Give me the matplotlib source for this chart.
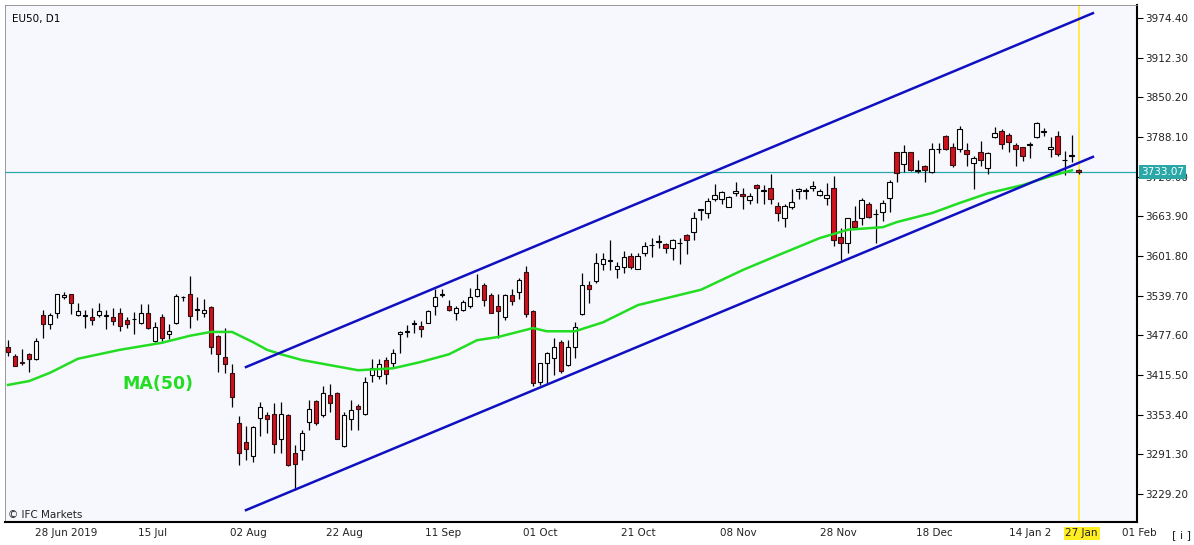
import numpy as np
import matplotlib.pyplot as plt

# daily candles EU50, D1
opens = [3460, 3446, 3436, 3448, 3440, 3509, 3496, 3512, 3537, 3542,
         3509, 3508, 3506, 3509, 3508, 3506, 3512, 3502, 3503, 3497,
         3512, 3468, 3506, 3479, 3497, 3537, 3543, 3518, 3512, 3522,
         3477, 3444, 3418, 3340, 3310, 3288, 3348, 3353, 3354, 3316,
         3353, 3293, 3298, 3342, 3375, 3353, 3384, 3388, 3304, 3346,
         3367, 3354, 3415, 3414, 3439, 3434, 3480, 3483, 3496, 3492,
         3497, 3524, 3541, 3524, 3512, 3518, 3523, 3540, 3556, 3541,
         3524, 3506, 3541, 3546, 3577, 3516, 3405, 3435, 3442, 3467,
         3431, 3460, 3511, 3556, 3563, 3589, 3594, 3582, 3585, 3602,
         3582, 3606, 3619, 3624, 3621, 3614, 3622, 3635, 3640, 3674,
         3669, 3691, 3691, 3679, 3701, 3699, 3690, 3713, 3704, 3709,
         3680, 3661, 3678, 3703, 3704, 3708, 3697, 3692, 3709, 3631,
         3622, 3656, 3662, 3684, 3667, 3670, 3692, 3765, 3746, 3764,
         3735, 3742, 3734, 3769, 3789, 3772, 3769, 3768, 3747, 3764,
         3739, 3788, 3798, 3791, 3776, 3772, 3776, 3788, 3796, 3769,
         3790, 3752, 3759, 3736]
closes = [3451, 3430, 3435, 3440, 3469, 3495, 3509, 3543, 3541, 3528,
          3516, 3508, 3501, 3516, 3508, 3500, 3493, 3496, 3503, 3512,
          3489, 3491, 3474, 3485, 3539, 3537, 3508, 3518, 3518, 3460,
          3448, 3432, 3381, 3293, 3299, 3334, 3365, 3346, 3308, 3354,
          3275, 3276, 3324, 3363, 3340, 3387, 3372, 3316, 3353, 3361,
          3362, 3405, 3427, 3432, 3417, 3450, 3483, 3483, 3496, 3488,
          3516, 3537, 3541, 3518, 3521, 3530, 3538, 3550, 3533, 3513,
          3515, 3541, 3532, 3565, 3511, 3403, 3434, 3450, 3459, 3422,
          3459, 3490, 3557, 3550, 3591, 3597, 3594, 3586, 3600, 3584,
          3602, 3617, 3619, 3624, 3615, 3627, 3622, 3627, 3662, 3674,
          3688, 3697, 3702, 3694, 3704, 3696, 3696, 3708, 3704, 3691,
          3669, 3680, 3687, 3706, 3704, 3711, 3703, 3697, 3627, 3622,
          3661, 3648, 3690, 3663, 3667, 3685, 3718, 3732, 3765, 3737,
          3735, 3737, 3769, 3769, 3770, 3744, 3800, 3761, 3756, 3752,
          3763, 3795, 3777, 3781, 3770, 3758, 3776, 3810, 3796, 3773,
          3761, 3752, 3759, 3733]
highs = [3471, 3448, 3457, 3450, 3473, 3517, 3512, 3543, 3545, 3543,
         3529, 3518, 3520, 3529, 3518, 3520, 3520, 3507, 3514, 3527,
         3527, 3499, 3511, 3495, 3542, 3539, 3571, 3537, 3534, 3524,
         3478, 3489, 3433, 3352, 3335, 3336, 3374, 3358, 3372, 3373,
         3354, 3306, 3329, 3376, 3377, 3398, 3402, 3389, 3358, 3377,
         3370, 3412, 3440, 3440, 3444, 3457, 3484, 3494, 3501, 3500,
         3517, 3550, 3550, 3533, 3524, 3533, 3551, 3574, 3559, 3544,
         3543, 3542, 3550, 3567, 3586, 3517, 3435, 3452, 3474, 3470,
         3470, 3499, 3576, 3563, 3606, 3607, 3627, 3593, 3609, 3607,
         3606, 3624, 3630, 3635, 3622, 3629, 3630, 3637, 3670, 3676,
         3692, 3715, 3704, 3696, 3717, 3708, 3701, 3715, 3713, 3731,
         3687, 3684, 3706, 3708, 3708, 3720, 3706, 3716, 3727, 3645,
         3662, 3680, 3692, 3687, 3675, 3690, 3721, 3765, 3776, 3765,
         3752, 3744, 3778, 3778, 3791, 3778, 3805, 3778, 3758, 3782,
         3764, 3804, 3800, 3795, 3779, 3773, 3781, 3811, 3803, 3788,
         3798, 3767, 3791, 3738]
lows = [3445, 3429, 3431, 3421, 3439, 3473, 3488, 3504, 3534, 3511,
        3508, 3489, 3494, 3507, 3488, 3494, 3485, 3489, 3480, 3495,
        3488, 3467, 3468, 3472, 3496, 3532, 3489, 3502, 3506, 3449,
        3421, 3418, 3365, 3274, 3283, 3280, 3320, 3324, 3294, 3294,
        3273, 3236, 3283, 3329, 3337, 3350, 3358, 3315, 3303, 3330,
        3329, 3353, 3405, 3410, 3401, 3427, 3450, 3475, 3482, 3475,
        3497, 3509, 3537, 3515, 3502, 3515, 3521, 3538, 3523, 3512,
        3473, 3502, 3525, 3534, 3507, 3398, 3400, 3402, 3415, 3419,
        3429, 3442, 3509, 3528, 3559, 3580, 3580, 3567, 3575, 3581,
        3581, 3602, 3601, 3614, 3607, 3595, 3590, 3605, 3627, 3658,
        3661, 3688, 3684, 3678, 3695, 3676, 3684, 3685, 3684, 3684,
        3657, 3648, 3676, 3691, 3691, 3703, 3696, 3682, 3617, 3596,
        3606, 3644, 3650, 3662, 3622, 3656, 3671, 3717, 3734, 3735,
        3732, 3718, 3732, 3763, 3768, 3741, 3765, 3743, 3706, 3743,
        3730, 3786, 3770, 3764, 3743, 3751, 3755, 3786, 3789, 3757,
        3758, 3729, 3749, 3731]

# MA(50): (bar index, value)
ma_idx = [0, 3, 6, 10, 16, 22, 26, 29, 32, 35, 37, 39, 42, 46, 50, 55, 59, 63,
          67, 70, 75, 77, 81, 85, 90, 96, 99, 105, 110, 116, 120, 125, 127, 132,
          136, 140, 145, 149, 152]
ma_val = [3400, 3406, 3419, 3441, 3455, 3466, 3477, 3483, 3483, 3467, 3455, 3448,
          3439, 3431, 3423, 3426, 3436, 3448, 3470, 3475, 3489, 3484, 3484, 3498,
          3525, 3541, 3549, 3580, 3603, 3630, 3643, 3647, 3655, 3669, 3685, 3700,
          3713, 3727, 3736]

# channel lines (bar index, price)
upper_x, upper_y = [34, 155], [3428, 3982]
lower_x, lower_y = [34, 155], [3204, 3757]
last_price = 3733.07

yticks = [3229.2, 3291.3, 3353.4, 3415.5, 3477.6, 3539.7, 3601.8, 3663.9,
          3726.0, 3788.1, 3850.2, 3912.3, 3974.4]
date_labels = ["28 Jun 2019", "15 Jul", "02 Aug", "22 Aug", "11 Sep", "01 Oct",
               "21 Oct", "08 Nov", "28 Nov", "18 Dec", "14 Jan 2"]
date_pos = [8.3, 20.7, 34.3, 48.1, 62.1, 76, 90, 104.3, 118.6, 132.4, 146.0]

fig = plt.figure(figsize=(11.94, 5.45), dpi=100)
fig.patch.set_facecolor("white")
ax = fig.add_axes([5 / 1194, 23 / 545, 1132 / 1194, 517 / 545])
ax.set_facecolor("#f7f8fe")

x = np.arange(len(opens))
o = np.array(opens); c = np.array(closes)
up = c >= o
ax.vlines(x, lows, highs, color="black", lw=0.9, zorder=2)
body = np.maximum(np.abs(c - o), 0.8)
ax.bar(x[up], body[up], bottom=o[up], width=0.7, color="white",
       edgecolor="black", lw=0.8, zorder=3)
ax.bar(x[~up], body[~up], bottom=c[~up], width=0.7, color="#d0101a",
       edgecolor="#301010", lw=0.8, zorder=3)

ax.plot(ma_idx, ma_val, color="#22dd22", lw=1.8, zorder=4)
ax.plot(upper_x, upper_y, color="#1010c0", lw=1.8, zorder=5)
ax.plot(lower_x, lower_y, color="#1010c0", lw=1.8, zorder=5)
ax.axhline(last_price, color="#2aa8a8", lw=0.9, zorder=1)
ax.axvline(153, color="#ffe830", lw=1.2, zorder=1)

ax.set_xlim(-0.43, 161.3)
ax.set_ylim(3185.4, 3994.8)

ax.yaxis.tick_right()
ax.set_yticks(yticks)
ax.set_yticklabels([f"{v:.2f}" for v in yticks], fontsize=7.5, color="#222222")
ax.tick_params(axis="y", length=4, pad=2)
ax.set_xticks([])
for s in ["top", "left"]:
    ax.spines[s].set_color("#888888")
    ax.spines[s].set_linewidth(0.6)
ax.spines["right"].set_linewidth(1.5)
ax.spines["bottom"].set_linewidth(1.5)

for lab, p in zip(date_labels, date_pos):
    ax.text(p, -0.012, lab, transform=ax.get_xaxis_transform(), ha="center",
            va="top", fontsize=7.5, color="#222222")
ax.text(153.4, -0.012, "27 Jan", transform=ax.get_xaxis_transform(), ha="center",
        va="top", fontsize=7.5, color="#222222",
        bbox=dict(boxstyle="square,pad=0.15", fc="#ffee22", ec="none"))
ax.text(161.6, -0.012, "01 Feb", transform=ax.get_xaxis_transform(), ha="center",
        va="top", fontsize=7.5, color="#222222", clip_on=False)
fig.text(1172 / 1194, 1 - 535 / 545, "[ i ]", fontsize=8, color="#222222", va="center")

ax.text(1.0 + 4 / 1132, last_price, f"{last_price:.2f}", transform=ax.get_yaxis_transform(),
        ha="left", va="center", fontsize=7.5, color="white", zorder=10,
        bbox=dict(boxstyle="square,pad=0.2", fc="#2aa8a8", ec="none"))

ax.text(0.006, 0.982, "EU50, D1", transform=ax.transAxes, fontsize=7.5, va="top")
ax.text(0.003, 0.004, "© IFC Markets", transform=ax.transAxes, fontsize=7.5,
        va="bottom", color="#222222")
ax.text(16.3, 3402, "MA(50)", fontsize=12.5, fontweight="bold", color="#22dd22",
        ha="left", va="center")

fig.savefig("out.png", dpi=100)
